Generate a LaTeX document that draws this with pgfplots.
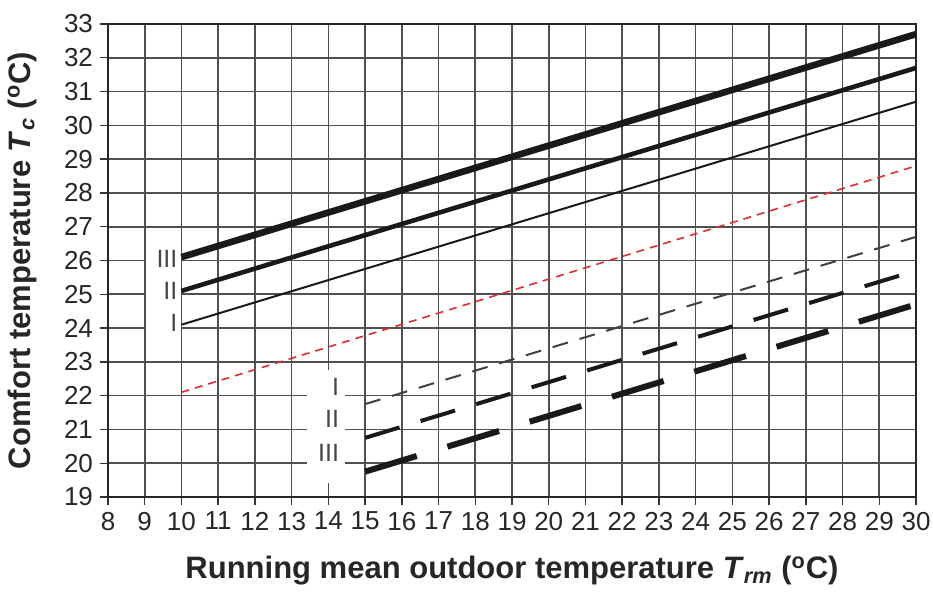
\documentclass[border=0pt]{standalone}
\usepackage{fontspec}
\setmainfont{Liberation Sans}
\usepackage{pgfplots}
\pgfplotsset{compat=1.18}
\usetikzlibrary{calc}

\definecolor{gridgray}{RGB}{80,80,80}
\definecolor{linek}{RGB}{25,25,25}
\definecolor{redline}{RGB}{225,45,45}
\definecolor{labgray}{RGB}{70,70,70}

\begin{document}
\begin{tikzpicture}
\begin{axis}[
    scale only axis,
    width=404pt, height=236.5pt,
    xmin=8, xmax=30, ymin=19, ymax=33,
    xtick distance=1, ytick distance=1,
    tick pos=left,
    tick align=outside,
    major tick length=4pt,
    tick style={black!80, line width=0.7pt},
    grid=major,
    major grid style={gridgray, line width=0.8pt},
    axis line style={black!85, line width=0.9pt},
    ticklabel style={font=\fontsize{13}{14}\selectfont, text=black!85},
    /pgf/number format/assume math mode=true,
    xlabel={\textbf{Running mean outdoor temperature \textit{T}\textsubscript{\textit{rm}} (\textsuperscript{o}C)}},
    ylabel={\textbf{Comfort temperature \textit{T}\textsubscript{\textit{c}} (\textsuperscript{o}C)}},
    xlabel style={font=\fontsize{15.5}{16}\selectfont, text=black!85,
        at={(axis description cs:0.5,0)}, anchor=center, yshift=-37pt},
    ylabel style={font=\fontsize{15.5}{16}\selectfont, text=black!85,
        at={(axis description cs:-0.1064,0.5)}, anchor=center},
]

% white boxes behind the class labels
\fill[white] (axis cs:9.03,23.5) rectangle (axis cs:10,26.7);
\fill[white] (axis cs:13.42,19.41) rectangle (axis cs:14.46,22.76);

% upper limits
\addplot[linek, line width=3.3pt] coordinates {(10,26.1) (30,32.7)};
\addplot[linek, line width=2.3pt] coordinates {(10,25.1) (30,31.7)};
\addplot[linek, line width=1pt] coordinates {(10,24.1) (30,30.7)};

% optimal comfort temperature
\addplot[redline, line width=0.8pt, dash pattern=on 4pt off 3pt] coordinates {(10,22.1) (30,28.8)};

% lower limits
\addplot[black!75, line width=1pt, dash pattern=on 8pt off 6pt] coordinates {(15,21.75) (30,26.7)};
\addplot[linek, line width=2pt, dash pattern=on 18pt off 11pt] coordinates {(15,20.75) (30,25.7)};
\addplot[linek, line width=3pt, dash pattern=on 27pt off 16pt] coordinates {(15,19.75) (30,24.7)};

% class labels
\begin{scope}[every node/.style={font=\fontsize{12.5}{13}\selectfont, text=labgray, anchor=east, inner sep=0pt}]
\node at (axis cs:9.9,26.05) {III};
\node at (axis cs:9.9,25.1) {II};
\node at (axis cs:9.9,24.15) {I};
\node at (axis cs:14.3,22.25) {I};
\node at (axis cs:14.3,21.3) {II};
\node at (axis cs:14.3,20.3) {III};
\end{scope}
\end{axis}
\pgfresetboundingbox
\path ($(current axis.south west)+(-54pt,-47.5pt)$) rectangle ($(current axis.north east)+(8.5pt,12pt)$);
\end{tikzpicture}
\end{document}
